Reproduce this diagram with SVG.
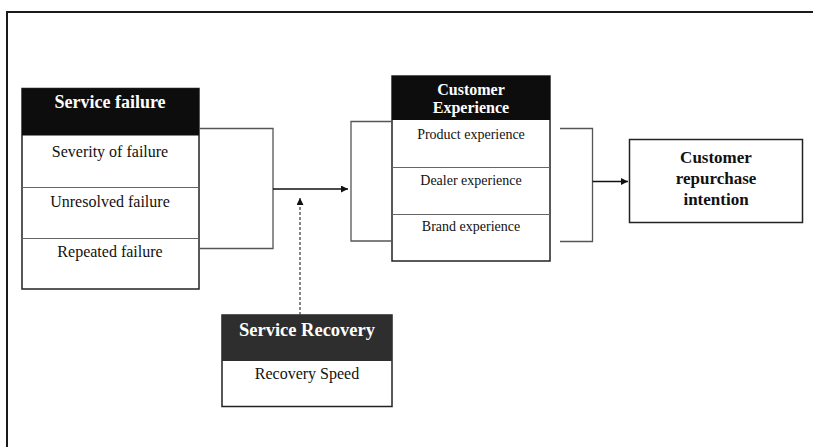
<svg xmlns="http://www.w3.org/2000/svg" width="813" height="447" viewBox="0 0 813 447">
  <defs>
    <marker id="arrow" viewBox="0 0 10 10" refX="10" refY="5" markerWidth="7" markerHeight="7" markerUnits="userSpaceOnUse" orient="auto">
      <path d="M0,0 L10,5 L0,10 z" fill="#111"/>
    </marker>
  </defs>
  <style>
    .frame { fill: none; stroke: #1a1a1a; stroke-width: 2; }
    .box { fill: #fff; stroke: #222; stroke-width: 1.5; }
    .row { fill: none; stroke: #666; stroke-width: 1.2; }
    .head { fill: #0d0d0d; }
    .head2 { fill: #2e2e2e; }
    .ht { font-family: "Liberation Serif", "Times New Roman", serif; font-weight: bold; fill: #fff; text-anchor: middle; }
    .bt { font-family: "Liberation Serif", "Times New Roman", serif; font-weight: bold; fill: #111; text-anchor: middle; }
    .rt { font-family: "Liberation Serif", "Times New Roman", serif; fill: #111; text-anchor: middle; }
    .bracket { fill: none; stroke: #555; stroke-width: 1.3; }
    .link { fill: none; stroke: #111; stroke-width: 1.5; }
    .dash { fill: none; stroke: #444; stroke-width: 1.3; stroke-dasharray: 3 2; }
  </style>
  <rect width="813" height="447" fill="#fff"/>
  <!-- page frame: only top and left edges are visible -->
  <path class="frame" d="M7,447 V12 H813"/>

  <g id="service-failure">
    <rect class="box" x="22" y="88.5" width="177" height="200.5"/>
    <rect class="head" x="22" y="88.5" width="177" height="47"/>
    <line class="row" x1="22" y1="187.5" x2="199" y2="187.5"/>
    <line class="row" x1="22" y1="238.5" x2="199" y2="238.5"/>
    <text class="ht" x="110" y="108" font-size="18">Service failure</text>
    <text class="rt" x="110" y="157" font-size="16">Severity of failure</text>
    <text class="rt" x="110" y="207" font-size="16">Unresolved failure</text>
    <text class="rt" x="110" y="257" font-size="16">Repeated failure</text>
  </g>

  <g id="customer-experience">
    <rect class="box" x="392" y="76" width="158" height="185"/>
    <rect class="head" x="392" y="76" width="158" height="44"/>
    <line class="row" x1="392" y1="167.5" x2="550" y2="167.5"/>
    <line class="row" x1="392" y1="214.5" x2="550" y2="214.5"/>
    <text class="ht" x="471" y="95" font-size="16">Customer</text>
    <text class="ht" x="471" y="113" font-size="16">Experience</text>
    <text class="rt" x="471" y="138.5" font-size="14">Product experience</text>
    <text class="rt" x="471" y="185" font-size="14">Dealer experience</text>
    <text class="rt" x="471" y="231" font-size="14">Brand experience</text>
  </g>

  <g id="repurchase-intention">
    <rect class="box" x="629.5" y="139.5" width="173" height="83"/>
    <text class="bt" x="716" y="163" font-size="17">Customer</text>
    <text class="bt" x="716" y="184" font-size="17">repurchase</text>
    <text class="bt" x="716" y="205" font-size="17">intention</text>
  </g>

  <g id="service-recovery">
    <rect class="box" x="222" y="315" width="170" height="91.5"/>
    <rect class="head2" x="222" y="315" width="170" height="46"/>
    <text class="ht" x="307" y="336" font-size="18.5">Service Recovery</text>
    <text class="rt" x="307" y="379" font-size="16">Recovery Speed</text>
  </g>

  <g id="connectors">
    <!-- bracket joining the failure dimensions -->
    <path class="bracket" d="M199,128.5 H273 V248.5 H199"/>
    <line class="link" x1="273" y1="189" x2="348" y2="189" marker-end="url(#arrow)"/>
    <!-- bracket joining the experience dimensions -->
    <path class="bracket" d="M392,121.5 H351 V241 H392"/>
    <path class="bracket" d="M560,128.5 H592.5 V241.5 H560"/>
    <line class="link" x1="592.5" y1="181.5" x2="628" y2="181.5" marker-end="url(#arrow)"/>
    <!-- moderating effect of recovery -->
    <line class="dash" x1="300" y1="315" x2="300" y2="198" marker-end="url(#arrow)"/>
  </g>
</svg>
